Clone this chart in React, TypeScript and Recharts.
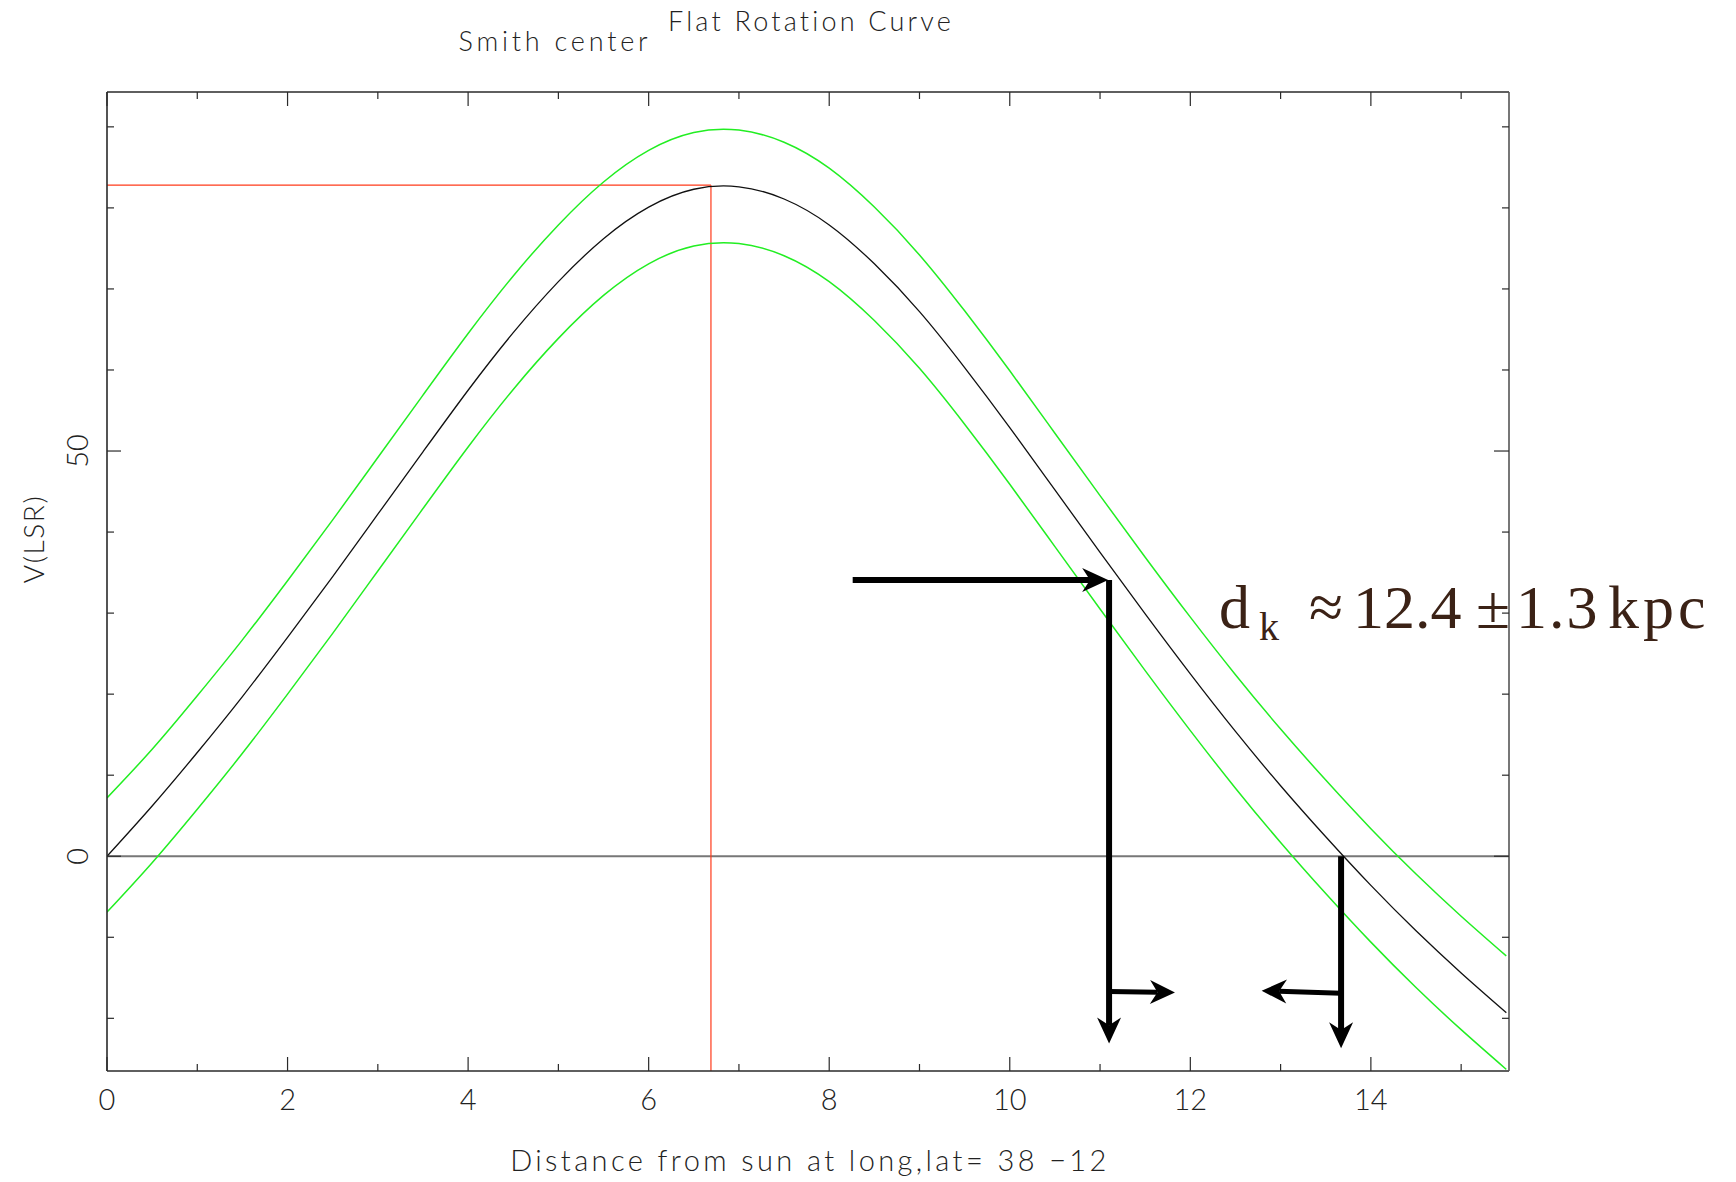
import React from 'react';
import { ComposedChart, Line, XAxis, YAxis, ReferenceLine } from 'recharts';

// distance from sun (kpc) and V(LSR)
const distance = [
  0, 0.5, 1, 1.5, 2, 2.5, 3, 3.5, 4, 4.5, 5, 5.5, 6, 6.5, 7, 7.5,
  8, 8.5, 9, 9.5, 10, 10.5, 11, 11.5, 12, 12.5, 13, 13.5, 14, 14.5, 15, 15.5,
];
const vlsr = [
  0, 6.2, 12.8, 19.7, 27.0, 34.5, 42.2, 49.9, 57.5, 64.6, 70.9, 76.2, 80.1, 82.3, 82.6, 81.1,
  77.9, 73.1, 67.2, 60.3, 52.9, 45.2, 37.5, 29.9, 22.5, 15.4, 8.7, 2.4, -3.6, -9.2, -14.4, -19.3,
];
const vlsrHigh = [
  7.2, 13.2, 19.8, 26.7, 34.0, 41.5, 49.2, 56.9, 64.5, 71.6, 77.9, 83.2, 87.1, 89.3, 89.6, 88.1,
  84.9, 80.1, 74.2, 67.3, 59.9, 52.2, 44.5, 36.9, 29.5, 22.4, 15.7, 9.4, 3.4, -2.2, -7.4, -12.3,
];
const vlsrLow = [
  -6.9, -0.8, 5.8, 12.7, 20.0, 27.5, 35.2, 42.9, 50.5, 57.6, 63.9, 69.2, 73.1, 75.3, 75.6, 74.1,
  70.9, 66.1, 60.2, 53.3, 45.9, 38.2, 30.5, 22.9, 15.5, 8.4, 1.7, -4.6, -10.6, -16.2, -21.4, -26.3,
];

const xTicks = [0, 1, 2, 3, 4, 5, 6, 7, 8, 9, 10, 11, 12, 13, 14, 15];
const xLabels = [0, 2, 4, 6, 8, 10, 12, 14];
const yTicks = [-20, -10, 0, 10, 20, 30, 40, 50, 60, 70, 80, 90];
const yLabels = [0, 50];

const tangentDistance = 6.69;
const tangentVelocity = 82.8;

// [x1, v1, x2, v2]
const mainArrows = [
  [8.26, 34.1, 11.09, 34.1],
  [11.1, 34.1, 11.1, -23.1],
  [13.67, 0, 13.67, -23.7],
];
const smallArrows = [
  [11.1, -16.7, 11.83, -16.8],
  [13.67, -16.9, 12.79, -16.6],
];

const chartData = distance.map((d, i) => ({ d, v: vlsr[i], hi: vlsrHigh[i], lo: vlsrLow[i] }));

const ink = '#2a2a2a';
const plotFont = 'Lato, "Liberation Sans", sans-serif';

const BottomTick = (props: any) => {
  const { x, y, payload } = props;
  const major = xLabels.includes(payload.value);
  return (
    <g>
      <line x1={x} y1={y} x2={x} y2={y - (major ? 14 : 7)} stroke={ink} strokeWidth={1.2} />
      {major && (
        <text x={x} y={y + 39} textAnchor="middle" fontFamily={plotFont} fontWeight={300} fontSize={29} fill="#222">
          {payload.value}
        </text>
      )}
    </g>
  );
};

const TopTick = (props: any) => {
  const { x, y, payload } = props;
  const major = xLabels.includes(payload.value);
  return <line x1={x} y1={y} x2={x} y2={y + (major ? 14 : 7)} stroke={ink} strokeWidth={1.2} />;
};

const LeftTick = (props: any) => {
  const { x, y, payload } = props;
  const major = yLabels.includes(payload.value);
  return (
    <g>
      <line x1={x} y1={y} x2={x + (major ? 14 : 7)} y2={y} stroke={ink} strokeWidth={1.2} />
      {major && (
        <text
          x={x - 30}
          y={y}
          transform={`rotate(-90, ${x - 30}, ${y})`}
          textAnchor="middle"
          dominantBaseline="central"
          fontFamily={plotFont}
          fontWeight={300}
          fontSize={29}
          fill="#222"
        >
          {payload.value}
        </text>
      )}
    </g>
  );
};

const RightTick = (props: any) => {
  const { x, y, payload } = props;
  const major = yLabels.includes(payload.value);
  return <line x1={x} y1={y} x2={x - (major ? 15 : 7)} y2={y} stroke={ink} strokeWidth={1.2} />;
};

// line with a notched arrow head at the end point
const arrowShape = (width: number, headLen: number, headHalf: number) => (props: any) => {
  const x1 = Number(props.x1);
  const y1 = Number(props.y1);
  const x2 = Number(props.x2);
  const y2 = Number(props.y2);
  const len = Math.hypot(x2 - x1, y2 - y1) || 1;
  const ux = (x2 - x1) / len;
  const uy = (y2 - y1) / len;
  const nx = -uy;
  const ny = ux;
  const bx = x2 - ux * headLen;
  const by = y2 - uy * headLen;
  const kx = x2 - ux * headLen * 0.7;
  const ky = y2 - uy * headLen * 0.7;
  const pts = [
    [x2, y2],
    [bx + nx * headHalf, by + ny * headHalf],
    [kx, ky],
    [bx - nx * headHalf, by - ny * headHalf],
  ]
    .map((p) => p.join(','))
    .join(' ');
  return (
    <g>
      <line x1={x1} y1={y1} x2={kx} y2={ky} stroke="#000" strokeWidth={width} />
      <polygon points={pts} fill="#000" />
    </g>
  );
};

export default function App() {
  return (
    <div style={{ position: 'absolute', left: 0, top: 0, width: 1736, height: 1182, background: '#fff' }}>
      <ComposedChart
        width={1736}
        height={1182}
        data={chartData}
        margin={{ top: 82, right: 207, bottom: 71, left: 47 }}
      >
        <XAxis
          xAxisId="bottom"
          dataKey="d"
          type="number"
          domain={[0, 15.53]}
          allowDataOverflow
          ticks={xTicks}
          interval={0}
          tickSize={0}
          tickMargin={0}
          tickLine={false}
          axisLine={{ stroke: ink, strokeWidth: 1.6 }}
          tick={BottomTick}
          height={40}
        />
        <XAxis
          xAxisId="top"
          orientation="top"
          dataKey="d"
          type="number"
          domain={[0, 15.53]}
          allowDataOverflow
          ticks={xTicks}
          interval={0}
          tickSize={0}
          tickMargin={0}
          tickLine={false}
          axisLine={{ stroke: ink, strokeWidth: 1.6 }}
          tick={TopTick}
          height={10}
        />
        <YAxis
          yAxisId="left"
          type="number"
          domain={[-26.5, 94.3]}
          allowDataOverflow
          ticks={yTicks}
          interval={0}
          tickSize={0}
          tickMargin={0}
          tickLine={false}
          axisLine={{ stroke: ink, strokeWidth: 1.6 }}
          tick={LeftTick}
          width={60}
        />
        <YAxis
          yAxisId="right"
          orientation="right"
          type="number"
          domain={[-26.5, 94.3]}
          allowDataOverflow
          ticks={yTicks}
          interval={0}
          tickSize={0}
          tickMargin={0}
          tickLine={false}
          axisLine={{ stroke: '#555', strokeWidth: 1.6 }}
          tick={RightTick}
          width={20}
        />

        <ReferenceLine xAxisId="bottom" yAxisId="left" y={0} stroke="#777" strokeWidth={2} />
        <ReferenceLine
          xAxisId="bottom"
          yAxisId="left"
          ifOverflow="visible"
          segment={[{ x: 0, y: tangentVelocity }, { x: tangentDistance, y: tangentVelocity }]}
          stroke="#ff3a1a"
          strokeWidth={1.2}
        />
        <ReferenceLine
          xAxisId="bottom"
          yAxisId="left"
          ifOverflow="visible"
          segment={[{ x: tangentDistance, y: tangentVelocity }, { x: tangentDistance, y: -26.5 }]}
          stroke="#ff3a1a"
          strokeWidth={1.2}
        />

        <Line xAxisId="bottom" yAxisId="left" type="natural" dataKey="hi" stroke="#22ee22" strokeWidth={1.5} dot={false} isAnimationActive={false} />
        <Line xAxisId="bottom" yAxisId="left" type="natural" dataKey="lo" stroke="#22ee22" strokeWidth={1.5} dot={false} isAnimationActive={false} />
        <Line xAxisId="bottom" yAxisId="left" type="natural" dataKey="v" stroke="#111" strokeWidth={1.3} dot={false} isAnimationActive={false} />

        {mainArrows.map((a, i) => (
          <ReferenceLine
            key={`m${i}`}
            xAxisId="bottom"
            yAxisId="left"
            ifOverflow="visible"
            segment={[{ x: a[0], y: a[1] }, { x: a[2], y: a[3] }]}
            shape={arrowShape(6, 26, 12)}
          />
        ))}
        {smallArrows.map((a, i) => (
          <ReferenceLine
            key={`s${i}`}
            xAxisId="bottom"
            yAxisId="left"
            ifOverflow="visible"
            segment={[{ x: a[0], y: a[1] }, { x: a[2], y: a[3] }]}
            shape={arrowShape(5, 25, 12)}
          />
        ))}
      </ComposedChart>

      <svg
        width={1736}
        height={1182}
        style={{ position: 'absolute', left: 0, top: 0, pointerEvents: 'none' }}
      >
        <g fontFamily={plotFont} fontWeight={300} fill="#222">
          <text x={811} y={31} textAnchor="middle" fontSize={27} letterSpacing={3.2}>
            Flat Rotation Curve
          </text>
          <text x={555} y={51} textAnchor="middle" fontSize={27} letterSpacing={3.8}>
            Smith center
          </text>
          <text x={810} y={1171} textAnchor="middle" fontSize={29} letterSpacing={3.4}>
            Distance from sun at long,lat= 38 −12
          </text>
          <text
            x={33}
            y={539}
            transform="rotate(-90, 33, 539)"
            textAnchor="middle"
            dominantBaseline="central"
            fontSize={28}
            letterSpacing={1.6}
          >
            V(LSR)
          </text>
        </g>
        <text fontFamily='"Liberation Serif", serif' fill="#3b2216" fontSize={62}>
          <tspan x={1219} y={628}>d</tspan>
          <tspan x={1259} y={640} fontSize={40}>k</tspan>
          <tspan x={1309} y={628}>≈</tspan>
          <tspan x={1353} y={628}>12.4</tspan>
          <tspan x={1476} y={628}>±</tspan>
          <tspan x={1516} y={628} letterSpacing={2}>1.3</tspan>
          <tspan x={1608} y={628} letterSpacing={4}>kpc</tspan>
        </text>
      </svg>
    </div>
  );
}
